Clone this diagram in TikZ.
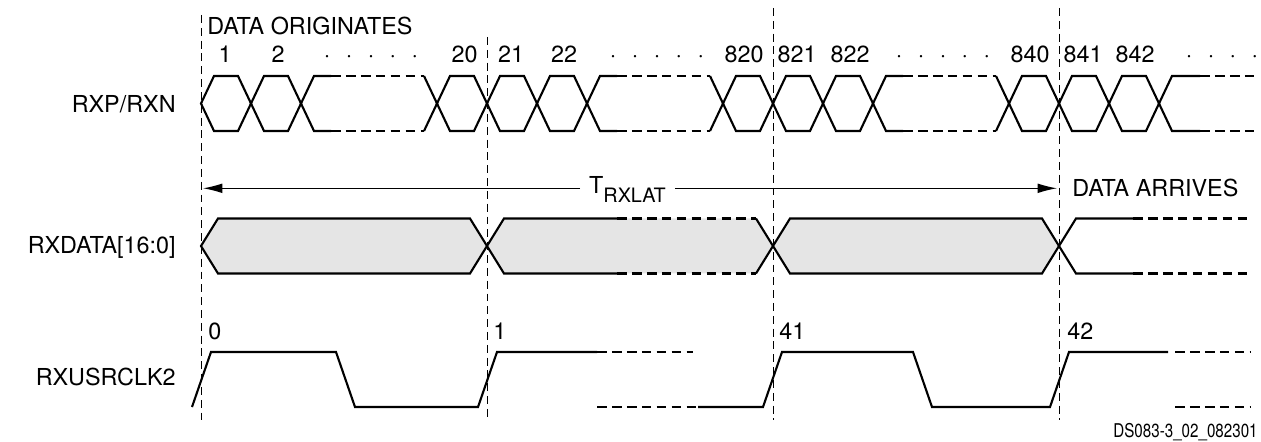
\documentclass[tikz,border=0pt]{standalone}
\usepackage{fontspec}
\setmainfont{TeX Gyre Heros}
\usetikzlibrary{arrows.meta,positioning,calc}
\newcommand{\dgap}{\hspace{.66em}}

\begin{document}
\begin{tikzpicture}[
  x=0.02cm, y=-0.02cm,
  font=\fontsize{13.3}{16}\selectfont,
  every node/.style={inner sep=0pt},
  sig/.style={line width=1.2pt},
  sigdash/.style={line width=1.2pt, dash pattern=on 5.5pt off 3pt},
  guide/.style={line width=0.5pt, dash pattern=on 4.5pt off 2.8pt},
  arrow/.style={-{Latex[length=11pt,width=5.5pt]}, line width=0.6pt},
  lbl/.style={anchor=base east},
  num/.style={anchor=base}
]
\useasboundingbox (0,0) rectangle (1261,442);

\foreach \x/\top in {201/15, 487/37, 773/8, 1059/8}
  \draw[guide] (\x,\top) -- (\x,420);

\node[lbl] (rxp) at (176,113) {RXP/RXN};
\node[lbl] (rxdata) at (176,254) {RXDATA[16:0]};
\node[lbl] (rxclk) at (176,385) {RXUSRCLK2};

\node[anchor=base west] (orig) at (207,35) {DATA ORIGINATES};
\foreach \g/\a/\b/\c in {201/1/2/20, 487/21/22/820, 773/821/822/840} {
  \node[num] (n\a) at (\g+24,63) {\a};
  \node[num] (n\b) at (\g+77,63) {\b};
  \node[num] (dots\a) at (\g+170,63) {·\dgap·\dgap·\dgap·\dgap·};
  \node[anchor=base east] (n\c) at (\g+277,63) {\c};
}
\node[num] (n841) at (1083,63) {841};
\node[num] (n842) at (1135,63) {842};
\node[num] (dots841) at (1222,63) {·\dgap·\dgap·\dgap·};

\foreach \g in {201,487,773,1059}
  \foreach \a in {\g,\g+50}
    \draw[sig] (\a,103.5) -- ++(13,-27.5) -- ++(24,0) -- ++(13,27.5) -- ++(-13,27.5) -- ++(-24,0) -- cycle;
\foreach \g in {201,487,773} {
  \draw[sig] (\g+130,76) -- (\g+113,76) -- (\g+100,103.5) -- (\g+113,131) -- (\g+130,131);
  \draw[sigdash] (\g+130,76) -- (\g+223,76) (\g+130,131) -- (\g+223,131);
  \draw[sig] (\g+223,76) -- (\g+236,103.5) -- (\g+223,131);
  \draw[sig] (\g+236,103.5) -- ++(13,-27.5) -- ++(24,0) -- ++(13,27.5) -- ++(-13,27.5) -- ++(-24,0) -- cycle;
}
\draw[sig] (1200,76) -- (1172,76) -- (1159,103.5) -- (1172,131) -- (1200,131);
\draw[sigdash] (1200,76) -- (1255,76) (1200,131) -- (1255,131);

\coordinate (arrL) at (203,188.3);
\coordinate (arrR) at (1057,188.3);
\node[anchor=base west, inner xsep=5pt] (lat) at (580,194)
  {T\raisebox{-5pt}{\fontsize{11.3}{12}\selectfont RXLAT}};
\draw[arrow] (lat.west |- arrL) -- (arrL);
\draw[arrow] (lat.east |- arrR) -- (arrR);
\node[anchor=base west] (arrive) at (1072,196.5) {DATA ARRIVES};

\draw[sig, fill=gray!20] (201,246) -- (218,218.5) -- (470,218.5) -- (487,246) -- (470,273.5) -- (218,273.5) -- cycle;
\fill[gray!20] (487,246) -- (504,218.5) -- (756,218.5) -- (773,246) -- (756,273.5) -- (504,273.5) -- cycle;
\draw[sig] (617,218.5) -- (504,218.5) -- (487,246) -- (504,273.5) -- (617,273.5);
\draw[sigdash] (617,218.5) -- (756,218.5) (617,273.5) -- (756,273.5);
\draw[sig] (756,218.5) -- (773,246) -- (756,273.5);
\draw[sig, fill=gray!20] (773,246) -- (790,218.5) -- (1042,218.5) -- (1059,246) -- (1042,273.5) -- (790,273.5) -- cycle;
\draw[sig] (1133,218.5) -- (1076,218.5) -- (1059,246) -- (1076,273.5) -- (1133,273.5);
\draw[sigdash] (1133,218.5) -- (1250,218.5) (1133,273.5) -- (1250,273.5);

\draw[sig] (192,407) -- (211,352) -- (336,352) -- (355,407) -- (478,407) -- (497,352) -- (597,352);
\draw[sigdash] (597,352) -- (693,352) (597,407) -- (698,407);
\draw[sig] (698,407) -- (763,407) -- (782,352) -- (913,352) -- (932,407) -- (1050,407) -- (1069,352) -- (1168,352);
\draw[sigdash] (1175,352) -- (1250,352) (1175,407) -- (1250,407);
\foreach \x/\n in {208/0, 493/1, 779/41, 1067/42}
  \node[anchor=base west] (clk\n) at (\x,339) {\n};

\node[anchor=base east] (figid) at (1258,437)
  {\fontsize{10.8}{12}\selectfont\scalebox{0.8}[1]{DS083-3\_02\_082301}};
\end{tikzpicture}
\end{document}
